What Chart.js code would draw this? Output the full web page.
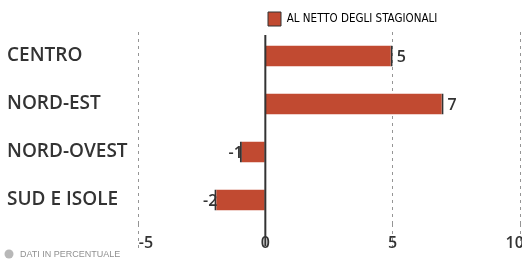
<!DOCTYPE html>
<html>
<head>
<meta charset="utf-8">
<script src="https://cdn.jsdelivr.net/npm/chart.js@4"></script>
<style>
  html, body { margin: 0; padding: 0; background: #fff; }
  #wrap { width: 522px; height: 261px; }
</style>
</head>
<body>
<div id="wrap"><canvas id="chart"></canvas></div>
<script>
const regions = ['CENTRO', 'NORD-EST', 'NORD-OVEST', 'SUD E ISOLE'];
const values = [5, 7, -1, -2];
const seriesName = 'AL NETTO DEGLI STAGIONALI';
const xTicks = [-5, 0, 5, 10];
const footNote = 'DATI IN PERCENTUALE';

const barColor = '#c14a31';
const inkColor = '#333333';

// zero line, value labels and footnote
const extras = {
  id: 'extras',
  afterLayout(chart) {
    // push the legend to sit above the bars
    const lg = chart.legend;
    const w = lg.right - lg.left;
    lg.left = 256;
    lg.right = lg.left + w;
  },
  afterDatasetsDraw(chart) {
    const ctx = chart.ctx;
    const x = chart.scales.x;
    const area = chart.chartArea;
    const x0 = x.getPixelForValue(0);
    ctx.save();
    ctx.strokeStyle = inkColor;
    ctx.lineWidth = 2;
    ctx.beginPath();
    ctx.moveTo(x0, area.top + 3);
    ctx.lineTo(x0, area.bottom + 22);
    ctx.stroke();

    ctx.font = '600 16px "Open Sans", sans-serif';
    ctx.fillStyle = inkColor;
    ctx.textBaseline = 'middle';
    chart.getDatasetMeta(0).data.forEach((bar, i) => {
      const v = values[i];
      if (v >= 0) {
        ctx.textAlign = 'left';
        ctx.fillText(String(v), bar.x + 4, bar.y + 1);
      } else {
        ctx.textAlign = 'right';
        ctx.fillText(String(v), bar.x + 3, bar.y + 1);
      }
    });

    // footnote
    ctx.fillStyle = '#b8b8b8';
    ctx.beginPath();
    ctx.arc(9, 254, 4.5, 0, Math.PI * 2);
    ctx.fill();
    ctx.fillStyle = '#909090';
    ctx.font = '9px "Liberation Sans", sans-serif';
    ctx.textAlign = 'left';
    ctx.fillText(footNote, 20, 255);
    ctx.restore();
  }
};

new Chart(document.getElementById('chart'), {
  type: 'bar',
  data: {
    labels: regions,
    datasets: [{
      label: seriesName,
      data: values,
      backgroundColor: barColor,
      borderColor: inkColor,
      borderWidth: c => (c.raw >= 0 ? {right: 2} : {left: 2}),
      borderSkipped: false,
      categoryPercentage: 1,
      barPercentage: 0.44
    }]
  },
  options: {
    indexAxis: 'y',
    responsive: true,
    maintainAspectRatio: false,
    animation: false,
    layout: { padding: { left: 7, right: 2, top: 0, bottom: 0 } },
    scales: {
      x: {
        min: -5,
        max: 10,
        afterBuildTicks: s => { s.ticks = xTicks.map(v => ({value: v})); },
        afterFit: s => { s.height = 37; s.paddingLeft = 0; s.paddingRight = 0; },
        grid: {
          color: c => (c.tick && c.tick.value === 0 ? 'rgba(0,0,0,0)' : '#959595'),
          tickColor: c => (c.tick && c.tick.value === 0 ? 'rgba(0,0,0,0)' : '#959595'),
          lineWidth: 1,
          tickLength: 24,
          tickBorderDash: [3, 4]
        },
        border: { display: false, dash: [3, 4] },
        ticks: {
          color: inkColor,
          padding: -14,
          // end labels are nudged off their gridlines like the original
          callback: v => {
            if (v === -5) return '\u2002\u2002' + v;
            if (v === 10) return v + '\u2002\u2009';
            return String(v);
          },
          font: { family: '"Open Sans", sans-serif', size: 16, weight: '600' }
        }
      },
      y: {
        afterFit: s => { s.width = 131; s.paddingTop = 0; s.paddingBottom = 0; },
        grid: { display: false },
        border: { display: false },
        ticks: {
          crossAlign: 'far',
          color: inkColor,
          font: { family: '"Open Sans", sans-serif', size: 19, weight: '600' }
        }
      }
    },
    plugins: {
      legend: {
        position: 'top',
        align: 'start',
        maxHeight: 32,
        labels: {
          boxWidth: 13,
          boxHeight: 14,
          padding: 12,
          color: inkColor,
          font: { family: '"DejaVu Sans Condensed", "DejaVu Sans", sans-serif', size: 11.5 },
          generateLabels: () => [{
            text: seriesName,
            fillStyle: barColor,
            strokeStyle: inkColor,
            lineWidth: 1,
            hidden: false,
            datasetIndex: 0
          }]
        }
      },
      tooltip: { enabled: false }
    }
  },
  plugins: [extras]
});
</script>
</body>
</html>
